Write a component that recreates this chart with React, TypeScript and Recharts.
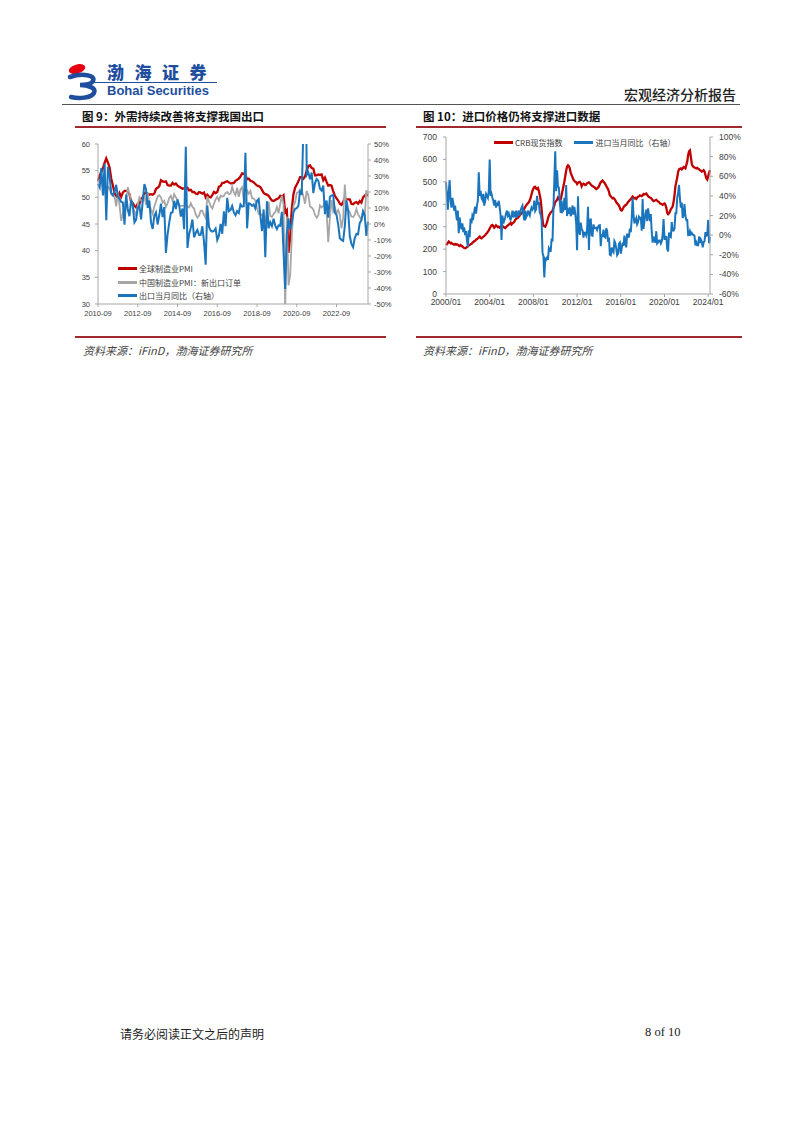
import React from 'react';
import { LineChart, Line, XAxis, YAxis, Legend } from 'recharts';

// ---------- 图9 数据（2010-09 ~ 2024-04，月度） ----------
const globalPmi = [
  53.0, 54.0, 54.8, 55.5, // 2010
  56.5, 57.3, 56.5, 55.6, 53.5, 52.2, 50.8, 50.2, 49.9, 50.8, 50.1, 50.9,
  51.2, 51.2, 51.1, 50.6, 49.2, 48.9, 48.4, 48.1, 48.8, 48.8, 49.7, 50.0,
  50.8, 50.9, 50.7, 50.5, 50.6, 50.5, 50.7, 51.6, 51.8, 52.1, 53.2, 53.0,
  52.9, 53.0, 52.3, 52.2, 52.2, 52.7, 52.4, 52.6, 52.2, 52.0, 51.8, 51.6,
  51.7, 51.9, 51.8, 51.3, 51.4, 51.0, 51.0, 50.7, 50.6, 51.0, 50.9, 50.7,
  50.9, 50.0, 50.5, 50.1, 50.0, 50.4, 51.0, 50.8, 51.0, 52.0, 52.1, 52.7,
  52.7, 52.9, 53.0, 52.8, 52.6, 52.6, 52.7, 53.1, 53.3, 53.5, 53.9, 54.5,
  54.4, 54.2, 53.4, 53.5, 53.1, 53.0, 52.8, 52.5, 52.2, 52.1, 51.9, 51.4,
  50.8, 50.6, 50.5, 50.3, 49.8, 49.4, 49.3, 49.5, 49.7, 49.8, 50.3, 50.1,
  50.4, 47.2, 47.6, 39.6, 42.4, 47.9, 50.6, 51.8, 52.4, 53.0, 53.8, 53.8,
  53.5, 53.9, 55.0, 55.9, 56.0, 55.5, 55.4, 54.1, 54.1, 54.3, 54.2, 54.3,
  53.2, 53.7, 52.9, 52.2, 52.3, 52.2, 51.1, 50.3, 49.8, 49.4, 48.8, 48.6,
  49.1, 49.9, 49.6, 49.6, 49.6, 48.8, 48.7, 49.0, 49.1, 48.8, 49.3, 49.0,
  50.0, 50.3, 50.6, 50.3, // 2024
];

const chinaExportOrders = [
  53.0, 53.2, 53.5, 51.7,
  51.1, 49.9, 52.0, 51.7, 50.5, 50.4, 50.1, 48.3, 50.8, 48.6, 45.6, 46.9,
  48.6, 49.7, 51.9, 50.6, 49.5, 48.3, 47.3, 46.6, 48.5, 50.0, 49.4, 49.4,
  50.4, 48.6, 50.9, 48.6, 47.7, 46.9, 48.3, 49.2, 50.2, 50.4, 50.0, 49.0,
  49.3, 48.2, 48.9, 49.9, 50.3, 49.3, 50.6, 50.0, 49.5, 48.5, 48.4, 48.4,
  48.4, 48.5, 48.3, 48.1, 48.9, 48.2, 47.9, 46.8, 46.2, 46.6, 47.5, 47.5,
  46.7, 46.1, 50.2, 49.2, 48.4, 47.9, 48.8, 49.6, 50.1, 49.4, 50.3, 50.1,
  50.3, 50.8, 51.0, 50.6, 50.7, 52.0, 50.9, 50.4, 51.8, 50.1, 51.5, 51.9,
  49.5, 49.0, 51.3, 50.7, 51.2, 49.8, 49.8, 49.4, 48.0, 46.9, 47.0, 46.6,
  46.9, 45.2, 47.1, 49.2, 46.5, 46.3, 46.9, 47.2, 48.2, 47.0, 48.8, 50.3,
  48.7, 28.7, 46.4, 33.5, 35.3, 42.6, 48.4, 49.1, 50.8, 51.0, 51.5, 51.3,
  50.2, 48.8, 51.2, 50.4, 48.3, 48.1, 47.7, 46.7, 46.2, 46.6, 48.5, 48.1,
  48.4, 49.0, 47.2, 41.6, 46.2, 49.5, 47.4, 48.1, 47.0, 47.6, 46.7, 44.2,
  46.1, 52.4, 47.6, 47.6, 47.2, 46.4, 46.3, 46.7, 47.8, 46.8, 46.3, 45.8,
  47.2, 46.3, 51.3, 50.6,
];

const exportYoY = [
  25.1, 22.9, 34.9, 17.9,
  37.7, 2.4, 35.8, 29.9, 19.4, 17.9, 20.4, 24.5, 17.1, 15.9, 13.8, 13.4,
  -0.5, 18.4, 8.9, 4.9, 15.3, 11.3, 1.0, 2.7, 9.9, 11.6, 2.9, 14.1,
  25.0, 21.8, 10.0, 14.7, 1.0, -3.1, 5.1, 7.2, -0.3, 5.6, 12.7, 4.3,
  10.6, -18.1, -6.6, 0.9, 7.0, 7.2, 14.5, 9.4, 15.3, 11.6, 4.7, 9.7,
  -3.3, 48.3, -15.0, -6.4, -2.5, 2.8, -8.3, -5.5, -3.7, -6.9, -6.8, -1.4,
  -11.2, -25.4, 11.5, -1.8, -4.1, -4.8, -4.4, -2.8, -10.0, -7.3, 0.1, -6.1,
  7.9, -1.3, 16.4, 8.0, 8.7, 11.3, 7.2, 5.5, 8.1, 6.9, 12.3, 10.9,
  11.1, 44.5, -2.7, 12.9, 12.6, 11.3, 12.2, 9.8, 14.5, 15.6, 5.4, -4.4,
  9.1, -20.8, 14.2, -2.7, 1.1, -1.3, 3.3, -1.0, -3.2, -0.9, -1.1, 7.6,
  -17.2, -40.6, -6.6, 3.5, -3.3, 0.5, 7.2, 9.5, 9.9, 11.4, 21.1, 18.1,
  60.6, 154.9, 30.6, 32.3, 27.9, 32.2, 19.3, 25.6, 28.1, 27.1, 22.0, 20.9,
  24.1, 6.2, 14.7, 3.9, 16.9, 17.9, 18.0, 7.1, 5.7, -0.3, -8.9, -9.9,
  -10.5, -1.3, 14.8, 8.5, -7.5, -12.4, -14.5, -8.8, -6.2, -6.4, 0.5, 2.3,
  8.0, 5.6, -7.5, 1.5,
];

const xTicks1 = ['2010-09', '2012-09', '2014-09', '2016-09', '2018-09', '2020-09', '2022-09'];
const leftTicks1 = [30, 35, 40, 45, 50, 55, 60];
const rightTicks1 = [-50, -40, -30, -20, -10, 0, 10, 20, 30, 40, 50];
const names1 = ['全球制造业PMI', '中国制造业PMI：新出口订单', '出口当月同比（右轴）'];

// ---------- 图10 数据（2000/01 ~ 2024/03，月度） ----------
const crbSpot = [
  225, 222, 228, 234, 230, 226, 228, 224, 222, 220, 223, 220,
  222, 220, 216, 214, 218, 215, 212, 208, 205, 204, 206, 210,
  212, 216, 218, 222, 224, 228, 232, 235, 238, 242, 245, 248,
  252, 256, 250, 248, 252, 256, 258, 262, 268, 272, 278, 284,
  292, 300, 306, 308, 302, 296, 300, 306, 302, 298, 300, 296,
  298, 302, 304, 300, 296, 294, 298, 302, 306, 310, 312, 318,
  310, 315, 318, 322, 330, 335, 338, 340, 345, 350, 355, 360,
  365, 372, 380, 388, 395, 400, 405, 410, 418, 430, 445, 460,
  470, 477, 478, 470, 468, 472, 460, 440, 420, 380, 330, 305,
  302, 300, 308, 320, 336, 350, 356, 364, 366, 372, 384, 395,
  410, 415, 420, 430, 425, 418, 422, 440, 460, 480, 500, 525,
  550, 568, 574, 570, 560, 540, 530, 520, 510, 505, 500, 498,
  490, 496, 498, 500, 494, 480, 488, 492, 490, 486, 488, 494,
  496, 498, 494, 488, 484, 482, 478, 476, 472, 468, 470, 474,
  480, 490, 498, 502, 506, 500, 496, 490, 482, 474, 468, 456,
  440, 436, 430, 426, 428, 424, 418, 410, 404, 400, 394, 384,
  374, 372, 378, 386, 392, 396, 398, 404, 410, 414, 420, 422,
  428, 434, 430, 426, 428, 424, 430, 434, 436, 440, 438, 436,
  440, 446, 444, 446, 448, 442, 436, 432, 430, 428, 424, 418,
  414, 416, 418, 420, 416, 412, 410, 404, 402, 400, 398, 402,
  404, 398, 384, 362, 356, 360, 368, 378, 384, 390, 410, 440,
  480, 500, 520, 545, 556, 558, 560, 556, 560, 566, 564, 560,
  575, 590, 620, 636, 640, 610, 580, 570, 566, 564, 562, 560,
  562, 558, 556, 552, 550, 546, 548, 552, 546, 530, 515, 510,
  525, 540, 552,
];

const importYoY = [
  54, 40, 26, 44, 56, 35, 28, 38, 33, 25, 30, 22,
  15, 25, 2, 18, 10, 6, 12, 3, 8, 0, 4, -5,
  -12, 5, -2, 17, 12, 20, 18, 24, 29, 22, 30, 35,
  64, 40, 45, 38, 36, 42, 30, 35, 42, 40, 38, 45,
  77, 40, 42, 38, 35, 30, 36, 28, 33, 30, 35, 28,
  20, -5, 20, 12, 15, 18, 22, 25, 20, 22, 18, 15,
  20, 25, 18, 22, 20, 25, 18, 22, 25, 20, 25, 28,
  30, 22, 15, 25, 18, 20, 25, 22, 20, 25, 28, 26,
  27.6, 35.1, 24.6, 26.4, 40, 31.1, 33.7, 23.1, 21.3, 15.6, -17.9, -21.3,
  -43.1, -24.1, -25.1, -23, -25.2, -13.2, -14.9, -17, -3.5, -6.4, 26.7, 55.9,
  85.5, 44.7, 66, 49.7, 48.3, 34.1, 22.7, 35.2, 24.1, 25.3, 37.9, 25.6,
  51, 19.4, 27.3, 21.8, 28.4, 19.3, 22.9, 30.2, 20.9, 28.7, 22.1, 11.8,
  -15.3, 39.6, 5.3, 0.3, 12.7, 6.3, 4.7, -2.6, 2.4, 2.4, 0, 6,
  28.8, -15.2, 14.1, 16.8, -0.3, -0.7, 10.9, 7, 7.4, 7.6, 5.3, 8.3,
  10, 10.1, -11.3, 0.8, -1.6, 5.5, -1.6, -2.4, 7, 4.6, -6.7, -2.4,
  -19.9, -20.5, -12.7, -16.2, -17.6, -6.1, -8.1, -13.8, -20.4, -18.8, -8.7, -7.6,
  -18.8, -13.8, -7.6, -10.9, -0.4, -8.4, -12.5, 1.5, -1.9, -1.4, 6.7, 3.1,
  16.7, 38.1, 20.3, 11.9, 14.8, 17.2, 11, 13.3, 18.7, 17.2, 17.7, 4.5,
  36.9, 6.3, 14.4, 21.5, 26, 14.1, 27.3, 20, 14.3, 21.4, 3, -7.6,
  -1.5, -5.2, -7.6, 4, -8.5, -7.3, -5.6, -5.6, -8.5, -6.4, 0.3, 16.3,
  -4, -4, -0.9, -14.2, -16.7, 2.7, -1.4, -2.1, 13.2, 4.7, 4.5, 6.5,
  22.2, 22.2, 38.1, 43.1, 51.1, 36.7, 28.1, 33.1, 17.6, 20.6, 31.7, 19.5,
  15.5, 15.5, -0.1, 0, 4.1, 1, 2.3, 0.3, 0.3, -0.7, -10.6, -7.5,
  -10.2, -10.2, -1.4, -7.9, -4.5, -6.8, -12.4, -7.3, -6.2, 3, -0.6, 0.2,
  15.5, -8.2, -1.9,
];

const xTicks2 = ['2000/01', '2004/01', '2008/01', '2012/01', '2016/01', '2020/01', '2024/01'];
const leftTicks2 = [0, 100, 200, 300, 400, 500, 600, 700];
const rightTicks2 = [-60, -40, -20, 0, 20, 40, 60, 80, 100];
const names2 = ['CRB现货指数', '进口当月同比（右轴）'];

// 月份标签
function monthLabels(y0: number, m0: number, n: number, sep: string) {
  const out: string[] = [];
  for (let k = 0; k < n; k++) {
    const t = m0 - 1 + k;
    out.push(`${y0 + Math.floor(t / 12)}${sep}${String((t % 12) + 1).padStart(2, '0')}`);
  }
  return out;
}

const months1 = monthLabels(2010, 9, globalPmi.length, '-');
const data1 = months1.map((month, i) => ({
  month,
  pmi: globalPmi[i],
  order: chinaExportOrders[i],
  exp: exportYoY[i],
}));

const months2 = monthLabels(2000, 1, crbSpot.length, '/');
const data2 = months2.map((month, i) => ({ month, crb: crbSpot[i], imp: importYoY[i] }));

const RED = '#C00000';
const GRAY = '#A6A6A6';
const BLUE = '#1B75BC';
const AXIS = '#A6A6A6';
const CJK = '"Noto Sans CJK SC", "Noto Sans", sans-serif';
const LATIN = '"Liberation Sans", Arial, sans-serif';

const tick1 = { fontSize: 7.5, fill: '#404040', fontFamily: LATIN };
const tick2 = { fontSize: 8.5, fill: '#404040', fontFamily: LATIN };
const pct = (v: number) => `${v}%`;

type LegendItem = { name: string; color: string; width: number };

function legendRows(items: LegendItem[], vertical: boolean) {
  return () => (
    <div style={{ display: 'flex', flexDirection: vertical ? 'column' : 'row', gap: vertical ? 0 : 12 }}>
      {items.map((it) => (
        <div key={it.name} style={{ display: 'flex', alignItems: 'center', height: vertical ? 13.5 : 14 }}>
          <span style={{ display: 'inline-block', width: 19, height: it.width, background: it.color, marginRight: 2 }} />
          <span style={{ fontSize: 8, color: '#404040', fontFamily: CJK, whiteSpace: 'nowrap' }}>{it.name}</span>
        </div>
      ))}
    </div>
  );
}

function Chart1() {
  const items = [
    { name: names1[0], color: RED, width: 3 },
    { name: names1[1], color: GRAY, width: 2.5 },
    { name: names1[2], color: BLUE, width: 3 },
  ];
  return (
    <LineChart width={320} height={190} data={data1} margin={{ top: 9, right: 0, left: 0, bottom: 0 }}>
      <XAxis
        dataKey="month"
        ticks={xTicks1}
        interval={0}
        height={21}
        tick={tick1}
        tickSize={3}
        tickMargin={4}
        axisLine={{ stroke: AXIS }}
        tickLine={{ stroke: AXIS }}
      />
      <YAxis
        yAxisId="l"
        domain={[30, 60]}
        ticks={leftTicks1}
        allowDataOverflow
        width={23}
        tick={tick1}
        tickSize={3}
        tickMargin={5}
        axisLine={{ stroke: AXIS }}
        tickLine={{ stroke: AXIS }}
      />
      <YAxis
        yAxisId="r"
        orientation="right"
        domain={[-50, 50]}
        ticks={rightTicks1}
        allowDataOverflow
        tickFormatter={pct}
        width={27}
        tick={tick1}
        tickSize={3}
        tickMargin={3}
        axisLine={{ stroke: AXIS }}
        tickLine={{ stroke: AXIS }}
      />
      <Legend
        layout="vertical"
        align="center"
        verticalAlign="middle"
        content={legendRows(items, true)}
        wrapperStyle={{ left: 43, top: 127, width: 200 }}
      />
      <Line yAxisId="l" dataKey="pmi" name={names1[0]} stroke={RED} strokeWidth={2.3} dot={false} isAnimationActive={false} />
      <Line yAxisId="l" dataKey="order" name={names1[1]} stroke={GRAY} strokeWidth={1.8} dot={false} isAnimationActive={false} />
      <Line yAxisId="r" dataKey="exp" name={names1[2]} stroke={BLUE} strokeWidth={2} dot={false} isAnimationActive={false} />
    </LineChart>
  );
}

function Chart2() {
  const items = [
    { name: names2[0], color: RED, width: 3 },
    { name: names2[1], color: BLUE, width: 3 },
  ];
  return (
    <LineChart width={330} height={190} data={data2} margin={{ top: 9, right: 0, left: 0, bottom: 0 }}>
      <XAxis
        dataKey="month"
        ticks={xTicks2}
        interval={0}
        height={24}
        tick={tick2}
        tickSize={3}
        tickMargin={2}
        axisLine={{ stroke: AXIS }}
        tickLine={{ stroke: AXIS }}
      />
      <YAxis
        yAxisId="l"
        domain={[0, 700]}
        ticks={leftTicks2}
        width={31}
        tick={tick2}
        tickSize={3}
        tickMargin={6}
        axisLine={{ stroke: AXIS }}
        tickLine={{ stroke: AXIS }}
      />
      <YAxis
        yAxisId="r"
        orientation="right"
        domain={[-60, 100]}
        ticks={rightTicks2}
        tickFormatter={pct}
        width={35}
        tick={tick2}
        tickSize={3}
        tickMargin={6}
        axisLine={{ stroke: AXIS }}
        tickLine={{ stroke: AXIS }}
      />
      <Legend
        layout="vertical"
        align="center"
        verticalAlign="middle"
        content={legendRows(items, false)}
        wrapperStyle={{ left: 79, top: 7, width: 240 }}
      />
      <Line yAxisId="l" dataKey="crb" name={names2[0]} stroke={RED} strokeWidth={2.3} dot={false} isAnimationActive={false} />
      <Line yAxisId="r" dataKey="imp" name={names2[1]} stroke={BLUE} strokeWidth={2} dot={false} isAnimationActive={false} />
    </LineChart>
  );
}

function Logo() {
  return (
    <div style={{ position: 'absolute', left: 66, top: 60, width: 160, height: 42 }}>
      <svg width={34} height={40} style={{ position: 'absolute', left: 0, top: 2 }}>
        <ellipse cx={11} cy={7} rx={8.5} ry={4.5} fill="#E60012" transform="rotate(-15 11 7)" />
        <path d="M4 15 C16 11 30 13 27 19 C25 23 18 23 14 23 C22 23 31 26 28 31 C25 36 13 37 5 35"
          fill="none" stroke="#1F4E9E" strokeWidth={4.5} strokeLinecap="round" />
      </svg>
      <div style={{ position: 'absolute', left: 41, top: 1, fontFamily: CJK, fontWeight: 900, fontSize: 17, letterSpacing: 10.5, color: '#1F4E9E', lineHeight: '21px', whiteSpace: 'nowrap' }}>
        渤海证券
      </div>
      <div style={{ position: 'absolute', left: 27, top: 21.5, width: 124, height: 1.5, background: '#1F4E9E' }} />
      <div style={{ position: 'absolute', left: 41, top: 23, fontFamily: LATIN, fontWeight: 700, fontSize: 13, color: '#1F4E9E', lineHeight: '15px', whiteSpace: 'nowrap' }}>
        Bohai Securities
      </div>
    </div>
  );
}

const abs = (left: number, top: number, extra: React.CSSProperties = {}): React.CSSProperties => ({
  position: 'absolute', left, top, whiteSpace: 'nowrap', ...extra,
});

export default function App() {
  const lineRed = '#9E2A2F';
  return (
    <div style={{ position: 'absolute', left: 0, top: 0, width: 802, height: 1134, background: '#fff', overflow: 'hidden' }}>
      <Logo />
      <div style={abs(624, 84, { fontFamily: CJK, fontSize: 14, color: '#222', fontWeight: 500 })}>宏观经济分析报告</div>
      <div style={abs(62, 104, { width: 678, height: 1, background: '#555' })} />

      <div style={abs(82, 108, { fontFamily: CJK, fontSize: 11.5, fontWeight: 700, color: '#111' })}>图 9：外需持续改善将支撑我国出口</div>
      <div style={abs(423, 108, { fontFamily: CJK, fontSize: 11.5, fontWeight: 700, color: '#111' })}>图 10：进口价格仍将支撑进口数据</div>
      <div style={abs(75, 126, { width: 311, height: 1.5, background: lineRed })} />
      <div style={abs(416, 126, { width: 326, height: 1.5, background: lineRed })} />

      <div style={abs(75, 135)}>
        <Chart1 />
      </div>
      <div style={abs(415, 128)}>
        <Chart2 />
      </div>

      <div style={abs(75, 336, { width: 311, height: 1.5, background: lineRed })} />
      <div style={abs(416, 336, { width: 326, height: 1.5, background: lineRed })} />
      <div style={abs(83, 342, { fontFamily: CJK, fontSize: 11, fontStyle: 'italic', color: '#444' })}>资料来源：iFinD，渤海证券研究所</div>
      <div style={abs(423, 342, { fontFamily: CJK, fontSize: 11, fontStyle: 'italic', color: '#444' })}>资料来源：iFinD，渤海证券研究所</div>

      <div style={abs(120, 1025, { fontFamily: CJK, fontSize: 12, color: '#222' })}>请务必阅读正文之后的声明</div>
      <div style={abs(645, 1025, { fontFamily: '"Liberation Serif", serif', fontSize: 12.5, color: '#222' })}>8 of 10</div>
    </div>
  );
}
